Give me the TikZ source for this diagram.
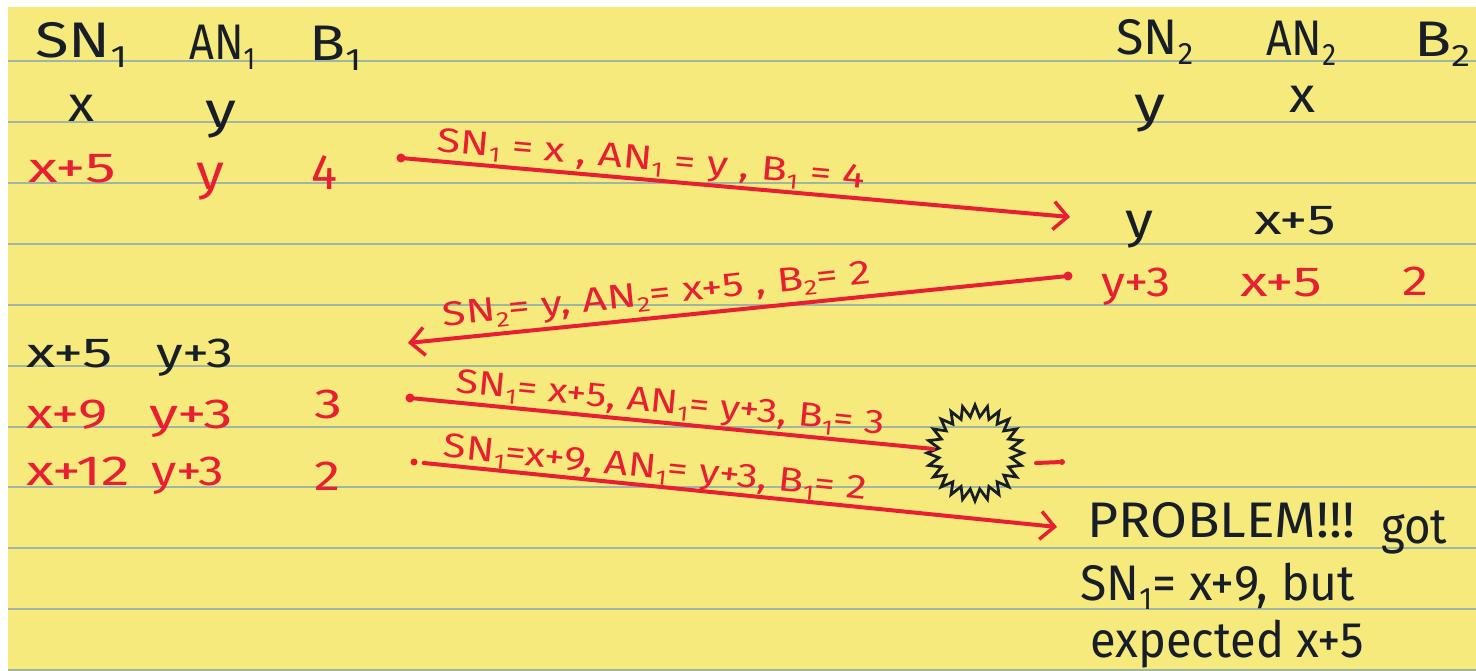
\documentclass[tikz,border=0pt]{standalone}
\usepackage{fontspec}
\setmainfont{Fira Sans}
\usetikzlibrary{arrows.meta,shapes.geometric}
\definecolor{pad}{RGB}{246,234,125}
\definecolor{ruleln}{RGB}{160,182,164}
\definecolor{ink}{RGB}{24,30,40}
\definecolor{pen}{RGB}{232,30,50}
\newcommand\sbx[1]{\raisebox{-0.35ex}{\scalebox{0.62}{#1}}}
\newcommand\fitw[2]{\resizebox{#1}{\height}{#2}}
\begin{document}
\begin{tikzpicture}[x=1pt,y=-1pt,
  txt/.style={inner sep=0pt, anchor=base west},
  big/.style={txt, font=\fontsize{50}{50}\selectfont},
  mid/.style={txt, font=\fontsize{42}{42}\selectfont},
  blk/.style={text=ink}, rd/.style={text=pen},
  lbl/.style={inner sep=0pt, text=pen, font=\fontsize{34}{34}\selectfont, sloped},
  dot/.style={circle, fill=pen, inner sep=0pt, minimum size=9pt},
  penline/.style={draw=pen, line width=4pt, line cap=round},
  arr/.style={penline, -{Straight Barb[length=14pt,width=28pt,line width=3.5pt]}},
  burststyle/.style={draw=ink, line width=2.8pt, star, star points=24, star point ratio=1.32, minimum size=96pt, inner sep=0pt}
]
\useasboundingbox (0,0) rectangle (1476,671);
\fill[white] (0,0) rectangle (1476,671);
\fill[pad] (8,7) rectangle (1476,671);
\foreach \yy in {61,122,183,244,305,366,427,487,548,609,670}
  \draw[ruleln, line width=1.6pt] (8,\yy) -- (1476,\yy);

% headers
\node[big,blk] (h1) at (35,58) {\fitw{92pt}{SN\sbx{1}}};
\node[big,blk] (h2) at (189,60) {\fitw{66pt}{AN\sbx{1}}};
\node[big,blk] (h3) at (309,61) {\fitw{52pt}{B\sbx{1}}};
\node[big,blk] (h4) at (1116,55) {\fitw{77pt}{SN\sbx{2}}};
\node[big,blk] (h5) at (1266,56) {\fitw{70pt}{AN\sbx{2}}};
\node[big,blk] (h6) at (1414,57) {\fitw{56pt}{B\sbx{2}}};

% row 2
\node[big,blk] (a1) at (68,122) {\fitw{26pt}{x}};
\node[big,blk] (a2) at (205,128) {\fitw{31pt}{y}};
\node[big,blk] (a3) at (1134,122) {\fitw{31pt}{y}};
\node[big,blk] (a4) at (1289,113) {\fitw{26pt}{x}};

% row 3 red
\node[mid,rd] (b1) at (28,183) {\fitw{88pt}{x+5}};
\node[big,rd] (b2) at (196,190) {\fitw{28pt}{y}};
\node[big,rd] (b3) at (311,190) {\fitw{26pt}{4}};

% right rows
\node[big,blk] (c1) at (1125,238) {\fitw{28pt}{y}};
\node[mid,blk] (c2) at (1254,235) {\fitw{82pt}{x+5}};
\node[mid,rd] (c3) at (1101,297) {\fitw{69pt}{y+3}};
\node[mid,rd] (c4) at (1240,297) {\fitw{82pt}{x+5}};
\node[mid,rd] (c5) at (1402,295) {\fitw{26pt}{2}};

% left lower rows
\node[mid,blk] (d1) at (26,367) {\fitw{87pt}{x+5}};
\node[mid,blk] (d2) at (156,367) {\fitw{77pt}{y+3}};
\node[mid,rd] (d3) at (26,428) {\fitw{82pt}{x+9}};
\node[mid,rd] (d4) at (149,428) {\fitw{84pt}{y+3}};
\node[mid,rd] (d5) at (314,418) {\fitw{28pt}{3}};
\node[mid,rd] (d6) at (26,485) {\fitw{104pt}{x+12}};
\node[mid,rd] (d7) at (151,485) {\fitw{73pt}{y+3}};
\node[mid,rd] (d8) at (314,490) {\fitw{26pt}{2}};

% problem text
\node[big,blk] (p1) at (1087,537) {\fitw{268pt}{PROBLEM!!!}};
\node[big,blk] (p2) at (1381,543) {\fitw{66pt}{got}};
\node[big,blk] (p3) at (1080,600) {\fitw{275pt}{SN\sbx{1}= x+9, but}};
\node[big,blk] (p4) at (1090,657) {\fitw{274pt}{expected x+5}};

% message 1
\node[dot] (s1) at (401,158) {};
\coordinate (e1) at (1070,217);
\draw[arr] (s1) -- node[lbl, pos=0.367, above=10pt, anchor=base] (l1)
  {\fitw{430pt}{SN\sbx{1} = x , AN\sbx{1} = y , B\sbx{1} = 4}} (e1);

% message 2
\node[dot] (s2) at (1068,276) {};
\coordinate (e2) at (408,343);
\draw[arr] (s2) -- node[lbl, pos=0.617, above=13pt, anchor=base] (l2)
  {\fitw{430pt}{SN\sbx{2}= y, AN\sbx{2}= x+5 , B\sbx{2}= 2}} (e2);

% message 3 (lost)
\node[burststyle] (burst) at (975,453) {};
\node[dot] (s3) at (410,398) {};
\draw[penline] (s3) -- node[lbl, pos=0.49, above=10pt, anchor=base] (l3)
  {\fitw{430pt}{SN\sbx{1}= x+5, AN\sbx{1}= y+3, B\sbx{1}= 3}} (burst);
\coordinate (f1) at (1036,463);
\node[dot, minimum size=6pt] (f2) at (1062,462) {};
\draw[penline] (f1) -- (f2);

% message 4
\node[dot, minimum size=7pt] (s4) at (414,462) {};
\coordinate (e4) at (1057,527);
\draw[arr, shorten <=6pt] (s4) -- node[lbl, pos=0.369, above=8pt, anchor=base] (l4)
  {\fitw{425pt}{SN\sbx{1}=x+9, AN\sbx{1}= y+3, B\sbx{1}= 2}} (e4);
\end{tikzpicture}
\end{document}
